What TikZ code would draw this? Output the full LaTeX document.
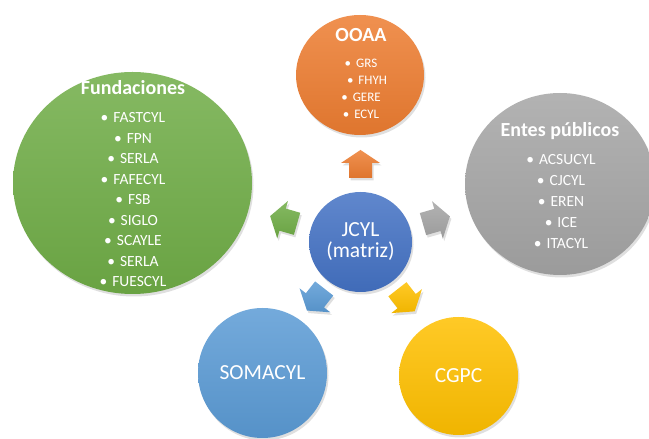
\documentclass[tikz,border=0pt]{standalone}
\usepackage{fontspec}
\setmainfont{Carlito}
\usetikzlibrary{shapes.geometric}
\usetikzlibrary{shadows}
\definecolor{cmain}{HTML}{4472C4}
\definecolor{corange}{HTML}{ED7D31}
\definecolor{cgreen}{HTML}{70AD47}
\definecolor{cgray}{HTML}{A5A5A5}
\definecolor{cblue}{HTML}{5B9BD5}
\definecolor{cyellow}{HTML}{FFC000}
\tikzset{tint/.style = {top color = #1!85!white, bottom color = #1!94!black}}
\tikzset{shadowed/.style = {drop shadow = {shadow xshift = 1.5pt, shadow yshift = -2.5pt, opacity = 0.25}}}
\tikzset{bubble/.style = {ellipse, inner sep = 0, text = white, shadowed}}
\tikzset{ttl/.style = {anchor = base, inner sep = 0, text = white, font = \fontsize{20}{24}\selectfont\bfseries}}
\tikzset{itm/.style = {anchor = base, inner sep = 0, text = white, font = \fontsize{#1}{18}\selectfont}}
\tikzset{big/.style = {align = center, font = \fontsize{21.5}{21}\selectfont}}

\begin{document}
\begin{tikzpicture}[x = 1pt, y = 1pt]
      \useasboundingbox (0, 0) rectangle (649, 439);

      % outer bubbles
      \node [bubble, tint = corange, minimum width = 128, minimum height = 120] (ooaa) at (360, 364) {};
      \node [bubble, tint = cgreen, minimum width = 239, minimum height = 222] (fund) at (132.5, 256) {};
      \node [bubble, tint = cgray, minimum width = 190, minimum height = 182] (entes) at (560, 255) {};
      \node [bubble, tint = cblue, minimum width = 129, minimum height = 130, big] (somacyl) at (262.5, 66) {SOMACYL};
      \node [bubble, tint = cyellow, minimum width = 119, minimum height = 118, big] (cgpc) at (458.5, 63) {CGPC};

      % centre
      \node [bubble, tint = cmain, minimum width = 103, minimum height = 100, big] (jcyl) at (360.5, 197) {JCYL\\(matriz)};

      % block arrows round the centre
      \foreach \ang/\dist/\col in {90/78/corange, 16/79/cgray, 164/80/cgreen, 232/73/cblue, 308/74/cyellow}
        \path [tint = \col, shadowed, shift = {(jcyl.center)}, rotate = \ang]
          ({\dist-14}, -11.5) -- ({\dist+1}, -11.5) -- ({\dist+1}, -19.5) -- ({\dist+14}, 0)
          -- ({\dist+1}, 19.5) -- ({\dist+1}, 11.5) -- ({\dist-14}, 11.5) -- cycle;

      % titles
      \node [ttl] (ooaa-t) at (361, 397) {OOAA};
      \node [ttl] (fund-t) at (133, 344) {Fundaciones};
      \node [ttl] (entes-t) at (560, 302) {Entes públicos};

      % lists
      \foreach \t/\dx [count = \i] in {GRS/0, FHYH/6, GERE/0, ECYL/0}
        \node [itm = 13] (oo-\i) at (361+\dx, 388-17*\i) {\textbullet\hspace{5pt}\t};
      \foreach \t [count = \i] in {FASTCYL, FPN, SERLA, FAFECYL, FSB, SIGLO, SCAYLE, SERLA, FUESCYL}
        \node [itm = 15.5] (fu-\i) at (133, 336.5-20.5*\i) {\textbullet\hspace{5pt}\t};
      \foreach \t [count = \i] in {ACSUCYL, CJCYL, EREN, ICE, ITACYL}
        \node [itm = 15.5] (en-\i) at (561, 295-21*\i) {\textbullet\hspace{5pt}\t};
\end{tikzpicture}
\end{document}
